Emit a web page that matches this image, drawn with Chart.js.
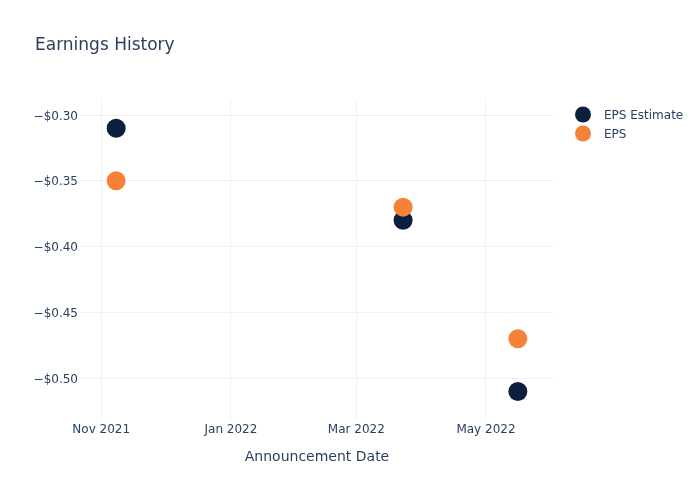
<!DOCTYPE html>
<html>
<head>
<meta charset="utf-8">
<script src="https://cdn.jsdelivr.net/npm/chart.js@4/dist/chart.umd.min.js"></script>
<style>
html,body{margin:0;padding:0;background:#fff;}
#wrap{width:700px;height:500px;position:relative;}
</style>
</head>
<body>
<div id="wrap"><canvas id="c" width="700" height="500"></canvas></div>
<script>
const announcementDates = ["2021-11-08", "2022-03-23", "2022-05-16"];
const epsEstimate = [-0.31, -0.38, -0.51];
const epsActual = [-0.35, -0.37, -0.47];
const xTickDates = ["2021-11-01", "2022-01-01", "2022-03-01", "2022-05-01"];
const xTickLabels = ["Nov 2021", "Jan 2022", "Mar 2022", "May 2022"];
const yTickValues = [-0.30, -0.35, -0.40, -0.45, -0.50];
const seriesNames = ["EPS Estimate", "EPS"];
const seriesColors = ["#0c1f3f", "#f58236"];

const FONT = "'DejaVu Sans', 'Open Sans', sans-serif";
const TXT = "#2a3f5f";
const GRID = "#edf2f8";
const t = d => Date.parse(d + "T00:00:00Z");
const xMin = t("2021-10-22"), xMax = t("2022-06-02");

const pts = vals => announcementDates.map((d, i) => ({x: t(d), y: vals[i]}));

const overlay = {
  id: 'overlay',
  afterDraw(chart) {
    const ctx = chart.ctx;
    ctx.save();
    ctx.fillStyle = TXT;
    ctx.font = "17px " + FONT;
    ctx.textBaseline = "middle";
    ctx.textAlign = "left";
    ctx.fillText("Earnings History", 35, 45.5);
    ctx.font = "12px " + FONT;
    seriesNames.forEach((n, i) => {
      const y = 114.5 + i * 19;
      ctx.beginPath();
      ctx.arc(583, y, 8, 0, Math.PI * 2);
      ctx.fillStyle = seriesColors[i];
      ctx.fill();
      ctx.fillStyle = TXT;
      ctx.fillText(n, 604, y + 1);
    });
    ctx.restore();
  }
};

new Chart(document.getElementById('c'), {
  type: 'scatter',
  data: {
    datasets: [
      {label: seriesNames[0], data: pts(epsEstimate), backgroundColor: seriesColors[0], borderWidth: 0, pointRadius: 9.5, order: 2},
      {label: seriesNames[1], data: pts(epsActual), backgroundColor: seriesColors[1], borderWidth: 0, pointRadius: 9.5, order: 1}
    ]
  },
  options: {
    responsive: false,
    animation: false,
    events: [],
    layout: {padding: {left: 0, right: 146, top: 100, bottom: 0}},
    plugins: {legend: {display: false}, title: {display: false}, tooltip: {enabled: false}},
    scales: {
      x: {
        type: 'linear',
        min: xMin, max: xMax,
        afterFit(s) { s.height = 80; },
        afterBuildTicks(s) { s.ticks = xTickDates.map(d => ({value: t(d)})); },
        grid: {color: GRID, drawTicks: false, lineWidth: 1},
        border: {display: false},
        ticks: {
          color: TXT, font: {family: FONT, size: 12}, padding: 3, maxRotation: 0, autoSkip: false,
          callback: (v) => { const i = xTickDates.findIndex(d => t(d) === v); return i >= 0 ? xTickLabels[i] : ''; }
        },
        title: {display: true, text: "Announcement Date", color: TXT, font: {family: FONT, size: 14}, padding: {top: 14, bottom: 34}}
      },
      y: {
        min: -0.5317, max: -0.2886,
        afterFit(s) { s.width = 80; },
        afterBuildTicks(s) { s.ticks = yTickValues.map(v => ({value: v})); },
        grid: {color: GRID, drawTicks: false, lineWidth: 1},
        border: {display: false},
        ticks: {
          color: TXT, font: {family: FONT, size: 12}, padding: 2, autoSkip: false, labelOffset: 1.5,
          callback: v => "\u2212$" + Math.abs(v).toFixed(2)
        }
      }
    }
  },
  plugins: [overlay]
});
</script>
</body>
</html>
